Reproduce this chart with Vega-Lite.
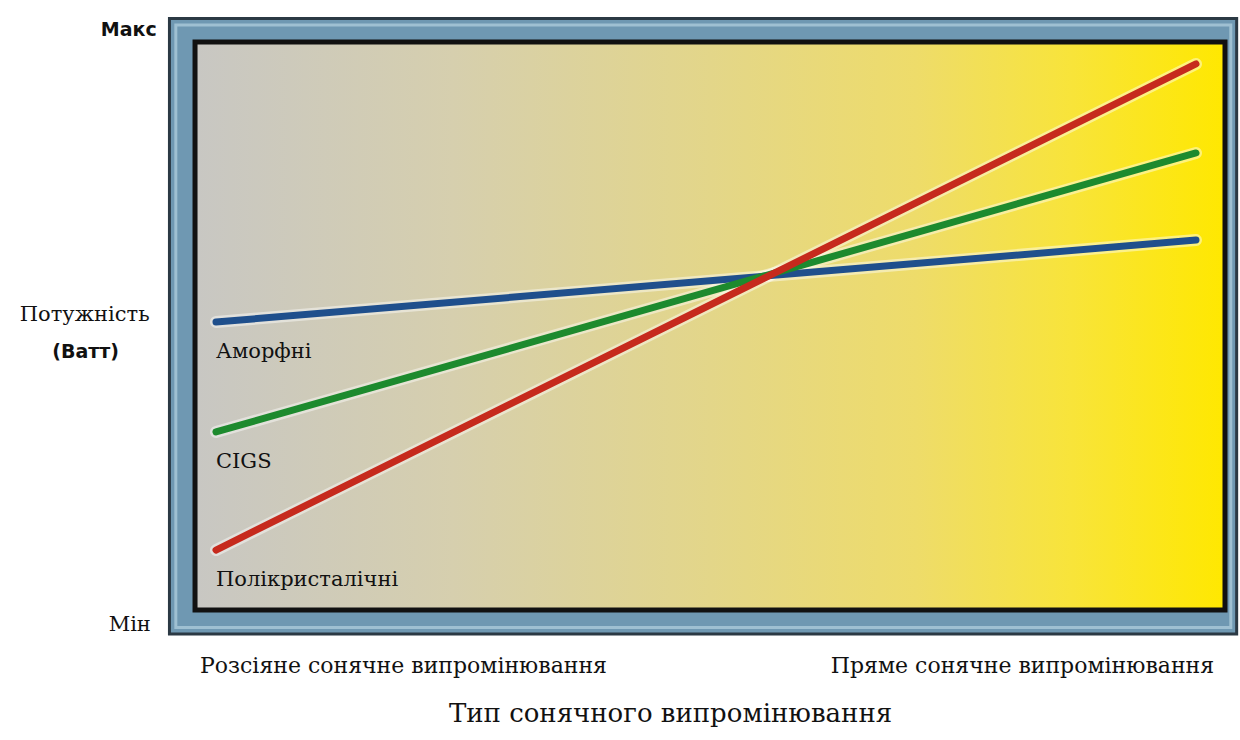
{
  "$schema": "https://vega.github.io/schema/vega-lite/v6.json",
  "autosize": {"type": "none"},
  "width": 1070,
  "height": 618,
  "padding": {"left": 168, "top": 17, "right": 2, "bottom": 105},
  "background": "#ffffff",
  "config": {"view": {"stroke": null}},
  "datasets": {
    "lines": [
      {"series": "Аморфні", "x": 0, "power": 50.65},
      {"series": "Аморфні", "x": 1, "power": 63.9},
      {"series": "CIGS", "x": 0, "power": 32.85},
      {"series": "CIGS", "x": 1, "power": 78.0},
      {"series": "Полікристалічні", "x": 0, "power": 13.75},
      {"series": "Полікристалічні", "x": 1, "power": 92.4}
    ],
    "ylabSerif": [
      {"t": "Потужність", "x": -0.134, "y": 51.8},
      {"t": "Мін", "x": -0.088, "y": 1.6}
    ],
    "ylabSans": [
      {"t": "Макс", "x": -0.089, "y": 97.9},
      {"t": "(Ватт)", "x": -0.133, "y": 45.8}
    ]
  },
  "layer": [
    {
      "data": {"values": [{}]},
      "mark": {"type": "rect", "fill": "#6f98b2", "stroke": "#2b3944", "strokeWidth": 3},
      "encoding": {
        "x": {"datum": -0.0475, "type": "quantitative", "scale": {"domain": [-0.04898, 1.04286], "nice": false, "zero": false}, "axis": {
          "values": [0.1908, 0.8224],
          "labelExpr": "datum.value < 0.5 ? 'Розсіяне сонячне випромінювання' : 'Пряме сонячне випромінювання'",
          "domain": false, "ticks": false, "grid": false, "labelLimit": 0,
          "labelFont": "DejaVu Serif", "labelFontSize": 22, "labelColor": "#111111", "labelPadding": 20,
          "title": "Тип сонячного випромінювання",
          "titleFont": "DejaVu Serif", "titleFontSize": 26, "titleFontWeight": "normal", "titleColor": "#111111",
          "titlePadding": 24, "titleX": 502, "titleAlign": "center"
        }},
        "x2": {"datum": 1.0415},
        "y": {"datum": 0.16, "type": "quantitative", "scale": {"domain": [0, 100], "nice": false, "zero": false}, "axis": null},
        "y2": {"datum": 99.76}
      }
    },
    {
      "data": {"values": [{}]},
      "mark": {"type": "rect", "fill": null, "stroke": "#9fc0d2", "strokeWidth": 3},
      "encoding": {
        "x": {"datum": -0.041, "type": "quantitative"},
        "x2": {"datum": 1.0355},
        "y": {"datum": 1.2, "type": "quantitative"},
        "y2": {"datum": 98.7}
      }
    },
    {
      "data": {"values": [{}]},
      "mark": {
        "type": "rect",
        "stroke": "#111111",
        "strokeWidth": 5,
        "fill": {
          "gradient": "linear", "x1": 0, "y1": 0, "x2": 1, "y2": 0,
          "stops": [
            {"offset": 0, "color": "#c8c7c3"},
            {"offset": 0.25, "color": "#d6cfae"},
            {"offset": 0.5, "color": "#e3d689"},
            {"offset": 0.7, "color": "#eedc6a"},
            {"offset": 0.85, "color": "#f8e43a"},
            {"offset": 1, "color": "#ffe800"}
          ]
        }
      },
      "encoding": {
        "x": {"datum": -0.0214, "type": "quantitative"},
        "x2": {"datum": 1.0296},
        "y": {"datum": 4.05, "type": "quantitative"},
        "y2": {"datum": 95.95}
      }
    },
    {
      "data": {"name": "lines"},
      "mark": {"type": "line", "strokeWidth": 12, "opacity": 0.45, "strokeCap": "round"},
      "encoding": {
        "x": {"field": "x", "type": "quantitative"},
        "y": {"field": "power", "type": "quantitative"},
        "detail": {"field": "series"},
        "color": {"value": "#ffffff"}
      }
    },
    {
      "data": {"name": "lines"},
      "mark": {"type": "line", "strokeWidth": 7, "strokeCap": "round"},
      "encoding": {
        "x": {"field": "x", "type": "quantitative"},
        "y": {"field": "power", "type": "quantitative"},
        "color": {
          "field": "series", "type": "nominal", "legend": null,
          "scale": {"domain": ["Аморфні", "CIGS", "Полікристалічні"], "range": ["#1f4f8c", "#1d8a2e", "#c62a1d"]}
        }
      }
    },
    {
      "data": {"name": "lines"},
      "transform": [{"filter": "datum.x == 0"}],
      "mark": {"type": "text", "align": "left", "baseline": "middle", "dy": 30, "dx": 0, "font": "DejaVu Serif", "fontSize": 21, "color": "#111111"},
      "encoding": {
        "x": {"field": "x", "type": "quantitative"},
        "y": {"field": "power", "type": "quantitative"},
        "text": {"field": "series"}
      }
    },
    {
      "data": {"name": "ylabSerif"},
      "mark": {"type": "text", "align": "center", "baseline": "middle", "font": "DejaVu Serif", "fontSize": 21, "color": "#111111"},
      "encoding": {
        "x": {"field": "x", "type": "quantitative"},
        "y": {"field": "y", "type": "quantitative"},
        "text": {"field": "t"}
      }
    },
    {
      "data": {"name": "ylabSans"},
      "mark": {"type": "text", "align": "center", "baseline": "middle", "font": "DejaVu Sans", "fontWeight": "bold", "fontSize": 19, "color": "#111111"},
      "encoding": {
        "x": {"field": "x", "type": "quantitative"},
        "y": {"field": "y", "type": "quantitative"},
        "text": {"field": "t"}
      }
    }
  ]
}
